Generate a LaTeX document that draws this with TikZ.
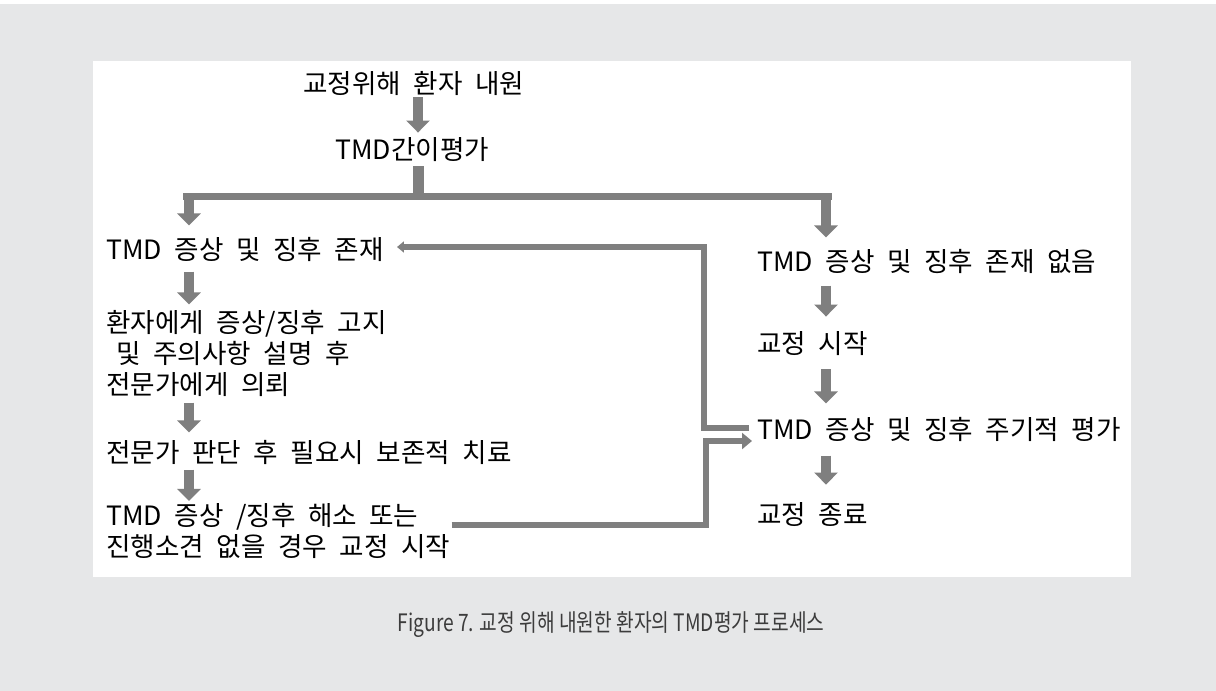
\documentclass[tikz,border=0pt]{standalone}
\usepackage{fontspec}
\setmainfont{Noto Sans CJK KR}[WordSpace=2.1]
\newfontfamily\capfont{Noto Sans CJK KR}[FakeStretch=0.8]
\usetikzlibrary{arrows.meta,calc}
\definecolor{arrgray}{RGB}{127,127,127}
\definecolor{bggray}{RGB}{230,231,232}
\definecolor{capgray}{RGB}{60,60,60}
\begin{document}
\begin{tikzpicture}[x=0.5pt,y=-0.5pt,
  txt/.style={anchor=west,inner sep=0pt,font=\fontsize{13.3pt}{15.5pt}\selectfont,align=left},
  blk/.style={draw=arrgray,line width=4.75pt,-{Triangle[width=11.5pt,length=6pt]}},
  stem/.style={draw=arrgray,line width=5.5pt},
  hbar/.style={draw=arrgray,line width=3.5pt},
  conn/.style={draw=arrgray,line width=3pt}]
\useasboundingbox (0,0) rectangle (1216,691);
\fill[bggray] (0,0) rectangle (1216,691);
\fill[white] (0,0) rectangle (1216,4);
\fill[white] (93,61) rectangle (1131,577);

\coordinate (tx) at (418,0);
\coordinate (lx) at (189,0);
\coordinate (rx) at (826,0);
\coordinate (fx) at (704,0);
\coordinate (gx) at (706,0);
\coordinate (j) at (418,196);

\node[txt] (a) at (303,83) {교정위해 환자 내원};
\node[txt] (b) at (335,150) {TMD간이평가};
\node[txt] (l1) at (106,250) {TMD 증상 및 징후 존재};
\node[txt] (l2) at (106,353) {환자에게 증상/징후 고지\\\hspace*{5pt}및 주의사항 설명 후\\전문가에게 의뢰};
\node[txt] (l3) at (106,452) {전문가 판단 후 필요시 보존적 치료};
\node[txt] (l4) at (106,531) {TMD 증상 /징후 해소 또는\\진행소견 없을 경우 교정 시작};
\node[txt] (r1) at (757,262) {TMD 증상 및 징후 존재 없음};
\node[txt] (r2) at (757,344) {교정 시작};
\node[txt] (r3) at (757,430) {TMD 증상 및 징후 주기적 평가};
\node[txt] (r4) at (757,515) {교정 종료};

% top arrow
\draw[blk,shorten <=1pt,shorten >=2.5pt] (a.south -| tx) -- (b.north -| tx);
% branch
\draw[stem,shorten <=2pt] (b.south -| tx) -- ($(j)+(0,3)$);
\draw[hbar] ($(j -| lx)+(-6,0)$) -- ($(j -| rx)+(6,0)$);
\draw[blk,shorten >=6pt] ($(j -| lx)+(0,-2)$) -- (l1.north -| lx);
\draw[blk,shorten >=6pt] ($(j -| rx)+(0,-2)$) -- (r1.north -| rx);
% left column
\draw[blk,shorten <=4.5pt,shorten >=2.5pt] (l1.south -| lx) -- (l2.north -| lx);
\draw[blk,shorten <=3pt,shorten >=3.5pt] (l2.south -| lx) -- (l3.north -| lx);
\draw[blk,shorten <=2.5pt,shorten >=1pt] (l3.south -| lx) -- (l4.north -| lx);
% right column
\draw[blk,shorten <=5.5pt,shorten >=7.5pt] (r1.south -| rx) -- (r2.north -| rx);
\draw[blk,shorten <=6.5pt,shorten >=7pt] (r2.south -| rx) -- (r3.north -| rx);
\draw[blk,shorten <=6.5pt,shorten >=9pt] (r3.south -| rx) -- (r4.north -| rx);
% feedback connectors
\coordinate (fa) at ($(r3.west)+(-8,-2)$);
\coordinate (fb) at ($(l1.east)+(13,-3)$);
\draw[conn,-{Triangle[width=5.5pt,length=3.5pt]}] (fa) -- (fa -| fx) -- (fx |- fb) -- (fb);
\coordinate (ga) at ($(l4.east)+(1,-6)$);
\coordinate (gb) at ($(r3.west)+(-5,11)$);
\draw[conn,-{Triangle[width=8pt,length=5pt]}] (ga) -- (ga -| gx) -- (gx |- gb) -- (gb);

\node[font=\capfont\fontsize{12pt}{14pt}\selectfont,text=capgray] (cap) at (611,625) {Figure 7. 교정 위해 내원한 환자의 TMD평가 프로세스};
\end{tikzpicture}
\end{document}
